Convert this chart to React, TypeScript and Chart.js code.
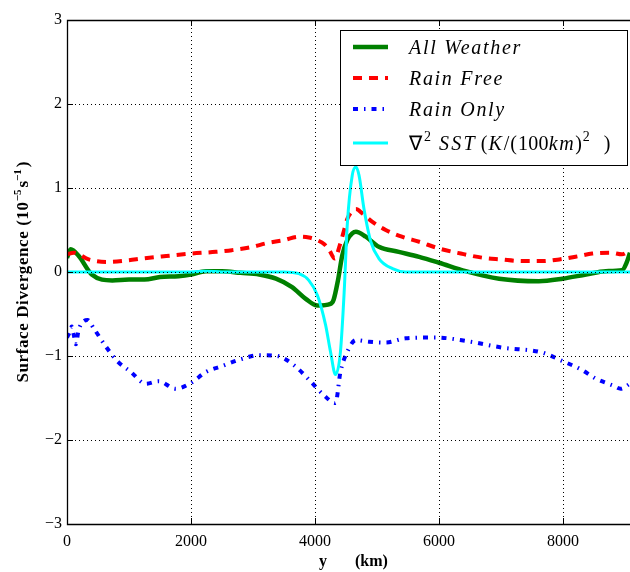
import { useEffect, useRef } from "react";
import { Chart, registerables } from "chart.js";

Chart.register(...registerables);

// ---------- data ----------
const allWeatherX = [0, 60, 190, 400, 730, 1000, 1250, 1500, 1800, 2000, 2240, 2500, 2800, 3100, 3370, 3630, 3850, 4040, 4250, 4300, 4370, 4440, 4520, 4600, 4660, 4820, 5030, 5350, 5680, 6000, 6430, 6970, 7610, 7990, 8370, 8690, 8950, 9030, 9080];
const allWeatherY = [0.17, 0.27, 0.19, -0.03, -0.10, -0.09, -0.09, -0.06, -0.05, -0.03, 0.01, 0.01, -0.01, -0.03, -0.08, -0.18, -0.32, -0.40, -0.38, -0.33, -0.10, 0.20, 0.38, 0.46, 0.48, 0.42, 0.30, 0.24, 0.18, 0.11, 0.01, -0.08, -0.11, -0.08, -0.03, 0.01, 0.02, 0.12, 0.23];

const rainFreeX = [0, 110, 350, 650, 1000, 1210, 1600, 2020, 2400, 2660, 3000, 3200, 3500, 3740, 3900, 4030, 4150, 4230, 4320, 4400, 4470, 4520, 4600, 4660, 4760, 4920, 5140, 5400, 5680, 6000, 6350, 6700, 7000, 7340, 7650, 7940, 8260, 8470, 8770, 8950, 9080];
const rainFreeY = [0.21, 0.23, 0.15, 0.12, 0.14, 0.16, 0.19, 0.22, 0.24, 0.26, 0.30, 0.34, 0.38, 0.42, 0.41, 0.38, 0.33, 0.26, 0.16, 0.32, 0.50, 0.63, 0.72, 0.75, 0.70, 0.60, 0.50, 0.42, 0.36, 0.28, 0.22, 0.17, 0.15, 0.13, 0.13, 0.15, 0.19, 0.22, 0.23, 0.21, 0.26];

const rainOnlyX = [0, 40, 76, 110, 145, 180, 220, 330, 430, 620, 810, 1030, 1270, 1480, 1750, 2000, 2240, 2500, 2800, 3100, 3390, 3660, 3900, 4120, 4330, 4410, 4520, 4660, 4870, 5140, 5460, 5950, 6430, 7020, 7670, 7990, 8290, 8530, 8800, 8930, 9080];
const rainOnlyY = [-0.78, -0.72, -0.65, -0.75, -0.86, -0.72, -0.63, -0.57, -0.67, -0.88, -1.06, -1.19, -1.33, -1.30, -1.39, -1.32, -1.19, -1.12, -1.04, -0.99, -1.00, -1.11, -1.28, -1.45, -1.56, -1.19, -0.95, -0.81, -0.83, -0.84, -0.79, -0.78, -0.82, -0.90, -0.96, -1.06, -1.16, -1.27, -1.35, -1.39, -1.33];

const sstX = [0, 1000, 2000, 2240, 2500, 3000, 3500, 3740, 3900, 4040, 4170, 4250, 4330, 4410, 4470, 4520, 4600, 4660, 4710, 4790, 4900, 5030, 5250, 5460, 6000, 7000, 8000, 9080];
const sstY = [0, 0, 0, 0.01, 0, 0, 0, -0.02, -0.10, -0.28, -0.63, -0.95, -1.22, -0.95, -0.24, 0.56, 1.15, 1.25, 1.15, 0.75, 0.36, 0.16, 0.04, 0, 0, 0, 0, 0];

const xTickValues = [0, 2000, 4000, 6000, 8000];
const yTickValues = [-3, -2, -1, 0, 1, 2, 3];
const legendLabels = ["All Weather", "Rain Free", "Rain Only", "∇² SST (K/(100km)² )"];

// ---------- helpers ----------
const SERIF = "'Liberation Serif', 'Times New Roman', serif";
type Run = { t: string; f: string; dy?: number; ls?: string; gap?: number };

function drawRuns(ctx: CanvasRenderingContext2D, runs: Run[], x: number, y: number) {
  let cx = x;
  for (const r of runs) {
    ctx.font = r.f;
    (ctx as any).letterSpacing = r.ls || "0px";
    ctx.fillText(r.t, cx, y + (r.dy || 0));
    cx += ctx.measureText(r.t).width + (r.gap || 0);
  }
  (ctx as any).letterSpacing = "0px";
  return cx - x;
}
function runsWidth(ctx: CanvasRenderingContext2D, runs: Run[]) {
  let w = 0;
  for (const r of runs) {
    ctx.font = r.f;
    (ctx as any).letterSpacing = r.ls || "0px";
    w += ctx.measureText(r.t).width + (r.gap || 0);
  }
  (ctx as any).letterSpacing = "0px";
  return w;
}

const overlayPlugin = {
  id: "overlay",
  afterDatasetsDraw(chart: any) {
    const { ctx, chartArea: a, scales } = chart;
    const xs = scales.x;
    const ys = scales.y;
    ctx.save();
    ctx.strokeStyle = "#000";
    ctx.lineWidth = 1;

    // dotted grid (drawn over lines like the reference)
    ctx.setLineDash([1, 3]);
    for (const v of xTickValues) {
      const px = Math.round(xs.getPixelForValue(v)) + 0.5;
      ctx.beginPath();
      ctx.moveTo(px, a.top);
      ctx.lineTo(px, a.bottom);
      ctx.stroke();
    }
    for (const v of yTickValues) {
      const py = Math.round(ys.getPixelForValue(v)) + 0.5;
      ctx.beginPath();
      ctx.moveTo(a.left, py);
      ctx.lineTo(a.right, py);
      ctx.stroke();
    }
    ctx.setLineDash([]);

    // inward tick marks
    for (const v of xTickValues) {
      const px = Math.round(xs.getPixelForValue(v)) + 0.5;
      ctx.beginPath();
      ctx.moveTo(px, a.bottom);
      ctx.lineTo(px, a.bottom - 6);
      ctx.moveTo(px, a.top);
      ctx.lineTo(px, a.top + 6);
      ctx.stroke();
    }
    for (const v of yTickValues) {
      const py = Math.round(ys.getPixelForValue(v)) + 0.5;
      ctx.beginPath();
      ctx.moveTo(a.left, py);
      ctx.lineTo(a.left + 6, py);
      ctx.stroke();
    }

    // frame: left, top, bottom
    ctx.lineWidth = 1.3;
    ctx.beginPath();
    ctx.moveTo(a.right + 2, Math.round(a.top) + 0.5);
    ctx.lineTo(Math.round(a.left) + 0.5, Math.round(a.top) + 0.5);
    ctx.lineTo(Math.round(a.left) + 0.5, Math.round(a.bottom) + 0.5);
    ctx.lineTo(a.right + 2, Math.round(a.bottom) + 0.5);
    ctx.stroke();

    // legend
    const bx = 340.5, by = 30.5, bw = 287, bh = 135;
    ctx.fillStyle = "#fff";
    ctx.fillRect(bx, by, bw, bh);
    ctx.lineWidth = 1;
    ctx.strokeStyle = "#000";
    ctx.strokeRect(bx, by, bw, bh);
    const rows = [47, 78, 109, 143];
    const dsets = chart.data.datasets;
    const it = `italic 20px ${SERIF}`;
    const rm = `20px ${SERIF}`;
    const sup = `14px ${SERIF}`;
    const labelRuns: Run[][] = [
      [{ t: legendLabels[0], f: it, ls: "1.7px" }],
      [{ t: legendLabels[1], f: it, ls: "1.7px" }],
      [{ t: legendLabels[2], f: it, ls: "1.7px" }],
      [
        { t: "∇", f: rm, gap: 2 },
        { t: "2", f: sup, dy: -9, gap: 8 },
        { t: "SST", f: it, ls: "2.2px", gap: 4 },
        { t: "(", f: rm, gap: 1 },
        { t: "K", f: it, ls: "1px", gap: 1 },
        { t: "/(", f: rm, ls: "1px" },
        { t: "100", f: rm, ls: "0.3px" },
        { t: "km", f: it, ls: "1.5px" },
        { t: ")", f: rm, gap: 1 },
        { t: "2", f: sup, dy: -9, gap: 14 },
        { t: ")", f: rm },
      ],
    ];
    for (let i = 0; i < 4; i++) {
      const d = dsets[i];
      const ry = rows[i];
      ctx.save();
      ctx.strokeStyle = d.borderColor;
      ctx.lineWidth = d.borderWidth;
      ctx.setLineDash(d.borderDash || []);
      ctx.lineCap = "butt";
      ctx.beginPath();
      ctx.moveTo(353, ry);
      ctx.lineTo(388, ry);
      ctx.stroke();
      ctx.restore();
      ctx.fillStyle = "#000";
      ctx.textBaseline = "alphabetic";
      ctx.textAlign = "left";
      drawRuns(ctx, labelRuns[i], 409, ry + 7);
    }

    // y axis title
    const bf = `bold 17px ${SERIF}`;
    const bs = `bold 11px ${SERIF}`;
    const yRuns: Run[] = [
      { t: "Surface Divergence (10", f: bf, ls: "0.6px" },
      { t: "−5", f: bs, dy: -7, gap: 2 },
      { t: "s", f: bf },
      { t: "−1", f: bs, dy: -7, gap: 2 },
      { t: ")", f: bf },
    ];
    ctx.save();
    ctx.translate(28, (a.top + a.bottom) / 2);
    ctx.rotate(-Math.PI / 2);
    ctx.fillStyle = "#000";
    ctx.textAlign = "left";
    ctx.textBaseline = "alphabetic";
    const w = runsWidth(ctx, yRuns);
    drawRuns(ctx, yRuns, -w / 2, 0);
    ctx.restore();

    // x axis title
    ctx.fillStyle = "#000";
    ctx.font = `bold 16px ${SERIF}`;
    ctx.textAlign = "center";
    ctx.textBaseline = "alphabetic";
    ctx.fillText("y", 323, 566);
    ctx.textAlign = "left";
    ctx.fillText("(km)", 355, 566);

    ctx.restore();
  },
};

export default function App() {
  const ref = useRef<HTMLCanvasElement | null>(null);
  useEffect(() => {
    document.body.style.margin = "0";
    const canvas = ref.current;
    if (!canvas) return;
    const mk = (xs: number[], ys: number[]) => xs.map((x, i) => ({ x, y: ys[i] }));
    const chart = new Chart(canvas, {
      type: "line",
      data: {
        datasets: [
          { label: legendLabels[0], data: mk(allWeatherX, allWeatherY), borderColor: "#008000", borderWidth: 4.5, pointRadius: 0, cubicInterpolationMode: "monotone", order: 4 } as any,
          { label: legendLabels[1], data: mk(rainFreeX, rainFreeY), borderColor: "#ff0000", borderWidth: 4, borderDash: [9, 7], pointRadius: 0, cubicInterpolationMode: "monotone", order: 3 } as any,
          { label: legendLabels[2], data: mk(rainOnlyX, rainOnlyY), borderColor: "#0000ff", borderWidth: 4, borderDash: [5, 6, 1.5, 6], pointRadius: 0, cubicInterpolationMode: "monotone", order: 2 } as any,
          { label: legendLabels[3], data: mk(sstX, sstY), borderColor: "#00ffff", borderWidth: 3, pointRadius: 0, cubicInterpolationMode: "monotone", order: 1 } as any,
        ],
      },
      options: {
        animation: false,
        responsive: false,
        devicePixelRatio: 1,
        layout: { padding: { top: 20, right: 0, left: 0, bottom: 0 } },
        plugins: { legend: { display: false }, tooltip: { enabled: false } },
        scales: {
          x: {
            type: "linear",
            min: 0,
            max: 9080,
            grid: { display: false, drawTicks: false },
            border: { display: false },
            afterBuildTicks: (s: any) => { s.ticks = xTickValues.map((v) => ({ value: v })); },
            afterFit: (s: any) => { s.height = 48; },
            ticks: {
              color: "#000",
              font: { family: SERIF, size: 16 },
              padding: 8,
              maxRotation: 0,
              autoSkip: false,
              callback: (v: any) => String(v),
            },
          },
          y: {
            type: "linear",
            min: -3,
            max: 3,
            grid: { display: false, drawTicks: false },
            border: { display: false },
            afterBuildTicks: (s: any) => { s.ticks = yTickValues.map((v) => ({ value: v })); },
            afterFit: (s: any) => { s.width = 67; },
            ticks: {
              color: "#000",
              font: { family: SERIF, size: 16 },
              padding: 5,
              callback: (v: any) => (v < 0 ? "−" + Math.abs(v) : String(v)),
            },
          },
        },
      },
      plugins: [overlayPlugin],
    });
    return () => chart.destroy();
  }, []);
  return <canvas ref={ref} width={630} height={572} style={{ display: "block" }} />;
}
